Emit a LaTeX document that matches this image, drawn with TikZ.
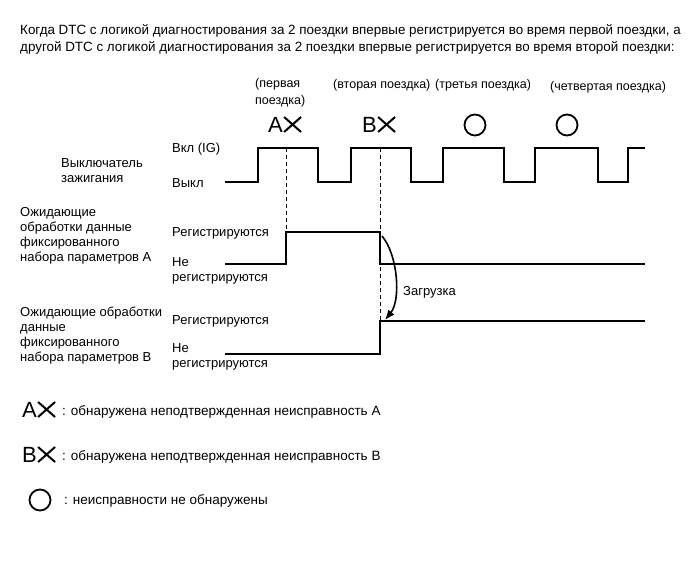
\documentclass[tikz,border=0pt]{standalone}
\usepackage{fontspec}
\setmainfont{Liberation Sans}
\usetikzlibrary{arrows.meta, positioning, calc}

\begin{document}
\begin{tikzpicture}[
    x=1bp, y=-1bp,
    lbl/.style={font=\fontsize{13bp}{15bp}\selectfont, inner sep=0pt, anchor=north west, align=left},
    wide/.style={lbl, font=\fontsize{12.5bp}{17bp}\selectfont},
    keytext/.style={lbl, font=\fontsize{13.5bp}{15bp}\selectfont},
    faultmark/.style={font=\fontsize{22bp}{22bp}\selectfont, inner sep=0pt, anchor=north west},
    okmark/.style={circle, draw, line width=1.8bp, minimum size=21bp, inner sep=0pt},
    signal/.style={line width=1.1bp, line join=miter},
    guide/.style={line width=0.7bp, dash pattern=on 4bp off 3bp},
    arrow/.style={-{Latex[length=10bp, width=8bp]}, line width=1.6bp},
    pics/xmark/.style={code={\draw[line width=2bp] (0,0) -- (17,15) (0,15) -- (17,0);}}
]
    \useasboundingbox (0,0) rectangle (691,564);

    % Title
    \node (title) [wide, font=\fontsize{13.4bp}{17bp}\selectfont] at (20,24.2) {Когда DTC с логикой диагностирования за 2 поездки впервые регистрируется во время первой поездки, а\\другой DTC с логикой диагностирования за 2 поездки впервые регистрируется во время второй поездки:};

    % Trips and what was found in each
    \node (trip1) [wide] at (255,78.4) {(первая\\поездка)};
    \node (trip2) [wide] at (333,79.4) {(вторая поездка)};
    \node (trip3) [wide] at (435,79.4) {(третья поездка)};
    \node (trip4) [wide] at (550,81.4) {(четвертая поездка)};
    \node (markA) [faultmark] at (268,117) {A};
    \pic at ([xshift=1bp]markA.north east) {xmark};
    \node (markB) [faultmark] at (362,117) {B};
    \pic at ([xshift=1bp]markB.north east) {xmark};
    \node (ok3) [okmark] at (475,125) {};
    \node (ok4) [okmark] at (567,125) {};

    % Row labels
    \node (ig) [lbl] at (61,158.2) {Выключатель\\зажигания};
    \node (igon) [lbl] at (172,143.2) {Вкл (IG)};
    \node (igoff) [lbl] at (172,178.2) {Выкл};
    \node (frzA) [lbl] at (20,207.2) {Ожидающие\\обработки данные\\фиксированного\\набора параметров А};
    \node (frzAon) [lbl] at (172,227.2) {Регистрируются};
    \node (frzAoff) [lbl] at (172,257.7) {Не\\регистрируются};
    \node (frzB) [lbl] at (20,307.2) {Ожидающие обработки\\данные\\фиксированного\\набора параметров В};
    \node (frzBon) [lbl] at (172,315.2) {Регистрируются};
    \node (frzBoff) [lbl] at (172,343.2) {Не\\регистрируются};

    % Waveforms
    \draw [signal] (225,182) -- (258,182) -- (258,148) -- (318,148) -- (318,182) -- (351,182) -- (351,148) -- (411,148) -- (411,182) -- (443,182) -- (443,148) -- (504,148) -- (504,182) -- (535,182) -- (535,148) -- (598,148) -- (598,182) -- (628,182) -- (628,148) -- (645,148);
    \draw [signal] (225,264) -- (286,264) -- (286,232) -- (380,232) -- (380,264) -- (645,264);
    \draw [signal] (225,354) -- (380,354) -- (380,321) -- (645,321);

    % Trip markers
    \draw [guide] (286,148) -- (286,232);
    \draw [guide] (380,148) -- (380,321);

    % Transfer of the frame from A to B
    \coordinate (fromA) at (382,236);
    \coordinate (toB) at (385,320);
    \draw [arrow] (fromA) .. controls (398,255) and (401,300) .. (toB);
    \node (load) [lbl] at (403,286.2) {Загрузка};

    % Legend
    \node (keyA) [faultmark] at (22,402) {A};
    \pic at ([xshift=1bp]keyA.north east) {xmark};
    \node (keyAtext) [keytext] at (62,405) {: обнаружена неподтвержденная неисправность А};
    \node (keyB) [faultmark] at (22,447) {B};
    \pic at ([xshift=1bp]keyB.north east) {xmark};
    \node (keyBtext) [keytext] at (62,450) {: обнаружена неподтвержденная неисправность В};
    \node (keyOk) [okmark] at (40,500) {};
    \node (keyOktext) [keytext] at (64,494) {: неисправности не обнаружены};
\end{tikzpicture}
\end{document}
